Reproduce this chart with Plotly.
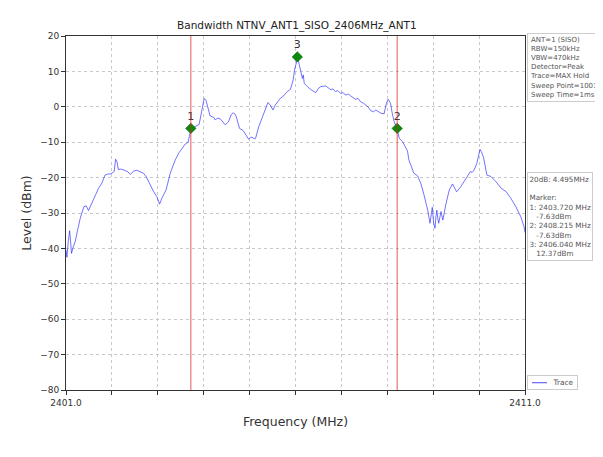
import plotly.graph_objects as go

# ---------------- data ----------------
freq_mhz = [
    2401.00, 2401.02, 2401.05, 2401.08, 2401.10, 2401.12, 2401.16, 2401.20, 2401.25, 2401.31,
    2401.39, 2401.44, 2401.49, 2401.55, 2401.60, 2401.66, 2401.71, 2401.78, 2401.85, 2401.91,
    2401.96, 2402.02, 2402.05, 2402.08, 2402.11, 2402.14, 2402.20, 2402.29, 2402.35, 2402.40,
    2402.47, 2402.54, 2402.62, 2402.69, 2402.75, 2402.80, 2402.86, 2402.91, 2402.98, 2403.04,
    2403.09, 2403.18, 2403.27, 2403.38, 2403.46, 2403.53, 2403.60, 2403.66, 2403.72, 2403.78,
    2403.85, 2403.90, 2403.96, 2404.01, 2404.05, 2404.09, 2404.14, 2404.22, 2404.25, 2404.30,
    2404.36, 2404.42, 2404.47, 2404.54, 2404.60, 2404.64, 2404.68, 2404.71, 2404.75, 2404.78,
    2404.86, 2404.93, 2404.98, 2405.02, 2405.05, 2405.10, 2405.13, 2405.20, 2405.27, 2405.34,
    2405.40, 2405.45, 2405.51, 2405.56, 2405.62, 2405.67, 2405.74, 2405.82, 2405.89, 2405.95,
    2405.98, 2406.02, 2406.05, 2406.08, 2406.11, 2406.15, 2406.17, 2406.19, 2406.26, 2406.33,
    2406.44, 2406.50, 2406.55, 2406.66, 2406.76, 2406.82, 2406.87, 2406.92, 2406.98, 2407.04,
    2407.09, 2407.15, 2407.20, 2407.25, 2407.31, 2407.36, 2407.42, 2407.48, 2407.53, 2407.58,
    2407.64, 2407.70, 2407.75, 2407.80, 2407.86, 2407.93, 2407.98, 2408.02, 2408.07, 2408.11,
    2408.15, 2408.22, 2408.26, 2408.33, 2408.37, 2408.44, 2408.47, 2408.52, 2408.58, 2408.66,
    2408.73, 2408.80, 2408.88, 2408.93, 2408.95, 2408.98, 2409.01, 2409.04, 2409.06, 2409.08,
    2409.10, 2409.12, 2409.17, 2409.21, 2409.28, 2409.35, 2409.42, 2409.47, 2409.51, 2409.60,
    2409.71, 2409.78, 2409.81, 2409.85, 2409.89, 2409.95, 2410.02, 2410.06, 2410.10, 2410.17,
    2410.26, 2410.37, 2410.48, 2410.59, 2410.69, 2410.80, 2410.91, 2410.98, 2411.00,
]
level_dbm = [
    -40.5, -42.5, -38.0, -35.0, -38.0, -41.4, -39.5, -38.1, -35.0, -31.5,
    -28.2, -28.0, -29.3, -27.5, -25.9, -24.5, -23.0, -21.6, -19.3, -19.0,
    -19.0, -18.6, -18.3, -14.8, -15.5, -17.7, -17.6, -18.0, -18.4, -19.1,
    -18.2, -17.9, -18.3, -18.8, -19.8, -21.2, -22.8, -24.0, -25.4, -27.5,
    -25.8, -23.5, -18.8, -15.0, -13.0, -11.7, -10.5, -10.0, -6.5, -5.8,
    -5.3, -5.0, -1.0, 2.4, 1.8, -0.5, -2.6, -3.0, -3.7, -3.2,
    -3.4, -4.3, -5.1, -4.2, -2.2, -1.7, -2.0, -2.8, -4.8, -6.1,
    -6.7, -8.4, -9.2, -8.6, -8.6, -9.0, -8.9, -5.6, -3.0, -0.9,
    1.2, 0.5, -0.9, 0.5, 1.6, 2.4, 3.1, 4.3, 4.9, 7.6,
    10.5, 12.5, 14.0, 12.0, 10.4, 8.0, 9.0, 6.6, 5.7, 4.9,
    4.0, 5.2, 5.7, 5.9, 4.9, 5.0, 4.3, 4.6, 3.8, 4.0,
    3.3, 3.6, 3.1, 2.6, 2.1, 2.4, 1.4, 1.0, 0.5, 0.0,
    -1.1, -1.4, -0.9, -1.3, -1.8, -2.0, 1.0, 2.1, 1.0, -2.0,
    -4.2, -6.6, -8.9, -9.8, -10.8, -12.5, -15.0, -17.0, -18.8, -19.5,
    -21.6, -24.9, -29.2, -32.9, -31.0, -28.4, -32.9, -34.3, -31.0, -29.2,
    -31.5, -32.9, -29.6, -32.0, -27.3, -23.5, -21.8, -23.0, -24.0, -22.6,
    -20.2, -19.0, -18.3, -18.5, -17.9, -16.0, -12.0, -13.0, -14.5, -19.3,
    -19.7, -21.2, -23.0, -24.0, -25.8, -28.2, -31.1, -33.9, -35.5,
]

marker_labels = ["1", "2", "3"]
marker_freq = [2403.720, 2408.215, 2406.040]
marker_level = [-6.1, -6.1, 14.1]          # as drawn in the picture
marker_text_level = ["-7.63", "-7.63", "12.37"]
bw_lines_freq = [2403.720, 2408.215]

x_ticks = [2401, 2402, 2403, 2404, 2405, 2406, 2407, 2408, 2409, 2410, 2411]
x_tick_text = ["2401.0", "", "", "", "", "", "", "", "", "", "2411.0"]
y_ticks = [20, 10, 0, -10, -20, -30, -40, -50, -60, -70, -80]

title_text = "Bandwidth NTNV_ANT1_SISO_2406MHz_ANT1"
settings_lines = ["ANT=1 (SISO)", "RBW=150kHz", "VBW=470kHz", "Detector=Peak",
                  "Trace=MAX Hold", "Sweep Point=1001", "Sweep Time=1ms"]
bw_text = "20dB: 4.495MHz"
legend_name = "Trace"

# ---------------- figure ----------------
FONT = "DejaVu Sans"
TRACE_COLOR = "rgba(40,40,255,0.65)"

fig = go.Figure()

fig.add_trace(go.Scatter(
    x=freq_mhz, y=level_dbm, mode="lines", name=legend_name,
    line=dict(color=TRACE_COLOR, width=1),
    showlegend=False,
))

fig.add_trace(go.Scatter(
    x=marker_freq, y=marker_level, mode="markers+text",
    text=marker_labels, textposition="top center",
    textfont=dict(family=FONT, size=11, color="#333"),
    marker=dict(symbol="diamond", size=8, color="#0a8a0a",
                line=dict(color="#056005", width=0.6)),
    showlegend=False, hoverinfo="skip",
))

for f in bw_lines_freq:
    fig.add_shape(type="line", xref="x", yref="paper", x0=f, x1=f, y0=0, y1=1,
                  line=dict(color="rgba(220,40,40,0.85)", width=0.9), layer="above")

marker_lines = ["Marker:"]
for lab, f, t in zip(marker_labels, marker_freq, marker_text_level):
    marker_lines.append(f"{lab}: {f:.3f} MHz")
    marker_lines.append("\u00a0\u00a0\u00a0" + t + "dBm")

fig.add_annotation(
    xref="paper", yref="paper", x=1.0044, y=1.0085, xanchor="left", yanchor="top",
    text="<br>".join(settings_lines), showarrow=False, align="left",
    font=dict(family=FONT, size=7.0, color="#555"),
    bordercolor="#cccccc", borderwidth=1, borderpad=2, bgcolor="white",
)
fig.add_annotation(
    xref="paper", yref="paper", x=1.0044, y=0.616, xanchor="left", yanchor="top",
    text="<br>".join([bw_text, ""] + marker_lines), showarrow=False, align="left",
    font=dict(family=FONT, size=7.2, color="#555"),
    bordercolor="#cccccc", borderwidth=1, borderpad=1.5, bgcolor="white",
)

# compact legend box (sample line + name)
fig.add_annotation(
    xref="paper", yref="paper", x=1.0044, y=0.0, xanchor="left", yanchor="bottom",
    text="\u00a0" * 10 + legend_name + "\u00a0", showarrow=False, align="left",
    font=dict(family=FONT, size=7.4, color="#555"),
    bordercolor="#cccccc", borderwidth=1, borderpad=2,
    bgcolor="rgba(255,255,255,0)",
)
fig.add_shape(type="line", xref="paper", yref="paper",
              x0=1.0153, x1=1.048, y0=0.0205, y1=0.0205,
              line=dict(color="rgba(40,40,255,0.85)", width=1))

fig.update_layout(
    width=595, height=441,
    margin=dict(l=58, r=78, t=28, b=59),
    paper_bgcolor="white", plot_bgcolor="white",
    font=dict(family=FONT, color="#333"),
    title=dict(text=title_text, xref="paper", x=0.503, xanchor="center",
               y=1 - 17 / 441, yanchor="middle",
               font=dict(family=FONT, size=10.5, color="#222")),
    showlegend=False,
)

fig.update_xaxes(
    range=[2401, 2411], tickvals=x_ticks, ticktext=x_tick_text,
    ticks="outside", ticklen=4, tickcolor="#333", tickwidth=1,
    showline=True, linecolor="#333", linewidth=1, mirror=True,
    showgrid=True, gridcolor="#c8c8c8", gridwidth=0.8, griddash="dot",
    zeroline=False,
    tickfont=dict(family=FONT, size=9, color="#333"),
    title=dict(text="Frequency (MHz)", font=dict(family=FONT, size=12.5, color="#333"),
               standoff=10),
)
fig.update_yaxes(
    range=[-80, 20], tickvals=y_ticks,
    ticks="outside", ticklen=4, tickcolor="#333", tickwidth=1,
    showline=True, linecolor="#333", linewidth=1, mirror=True,
    showgrid=True, gridcolor="#c8c8c8", gridwidth=0.8, griddash="dot",
    zeroline=False,
    tickfont=dict(family=FONT, size=9, color="#333"),
    title=dict(text="Level (dBm)", font=dict(family=FONT, size=12.5, color="#333"),
               standoff=5),
)

fig.write_html("out.html")
